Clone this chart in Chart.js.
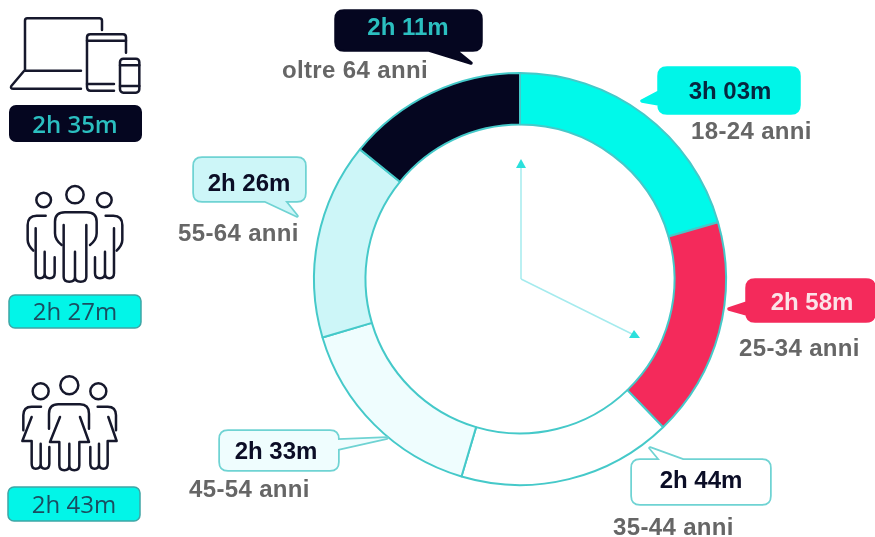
<!DOCTYPE html>
<html lang="it">
<head>
<meta charset="utf-8">
<title>Tempo per fascia di eta</title>
<script src="https://cdn.jsdelivr.net/npm/chart.js@4"></script>
<style>
  html, body { margin: 0; padding: 0; background: #fff; }
  #stage { position: relative; width: 875px; height: 537px; overflow: hidden; }
  #ring { position: absolute; left: 300px; top: 59px; }
  #overlay { position: absolute; left: 0; top: 0; }
  .big { font: bold 24px "Liberation Sans", sans-serif; text-anchor: middle; }
  .age { font: bold 24px "Liberation Sans", sans-serif; letter-spacing: 0.35px; fill: #666; }
  .pill { font: 24px "Open Sans", sans-serif; text-anchor: middle; }
  .icon { fill: none; stroke: #16182c; stroke-width: 7.5; stroke-linecap: round; stroke-linejoin: round; }
</style>
</head>
<body>
<div id="stage">
  <canvas id="ring" width="440" height="440"></canvas>
  <svg id="overlay" width="875" height="537" viewBox="0 0 875 537"></svg>
</div>
<script>
// Age groups, clockwise from 12 o'clock
const ageGroups = ["18-24 anni", "25-34 anni", "35-44 anni", "45-54 anni", "55-64 anni", "oltre 64 anni"];
const timeLabels = ["3h 03m", "2h 58m", "2h 44m", "2h 33m", "2h 26m", "2h 11m"];
// Slice sizes, in degrees of the ring
const sliceSizes = [74, 62, 60.5, 57, 55.5, 51];
const sliceColors = ["#00f9ea", "#f42a5b", "#ffffff", "#effdfe", "#cdf6f8", "#050620"];
// Totals in the left column
const deviceTotal = "2h 35m";
const menTotal = "2h 27m";
const womenTotal = "2h 43m";

new Chart(document.getElementById("ring"), {
  type: "doughnut",
  data: {
    labels: ageGroups,
    datasets: [
      {
        data: sliceSizes,
        backgroundColor: sliceColors,
        borderColor: "#45c9c9",
        borderWidth: 2,
        hoverOffset: 0,
      },
    ],
  },
  options: {
    responsive: false,
    animation: false,
    radius: 206,
    cutout: "75%",
    plugins: { legend: { display: false }, tooltip: { enabled: false } },
  },
});

// Callouts: box [x, y, w, h], tail points, text centre and baseline, age label position
const callouts = [
  { box: [659, 68, 140, 45], tail: [[659, 92], [642, 101], [659, 104]], fill: "#00f5e8", stroke: "#00f5e8", text: "#06263f", tx: 730, ty: 99, ax: 691, ay: 139 },
  { box: [747, 280, 127, 41], tail: [[747, 303], [729, 309], [747, 314]], fill: "#f42a5b", stroke: "#f42a5b", text: "#fbe3e8", tx: 812, ty: 310, ax: 739, ay: 356 },
  { box: [632, 460, 138, 44], tail: [[660, 460], [650, 448], [683, 460]], fill: "#ffffff", stroke: "#6fd3d3", text: "#0b0d26", tx: 701, ty: 488, ax: 613, ay: 535 },
  { box: [220, 431, 118, 39], tail: [[338, 440], [387, 438], [338, 449]], fill: "#effdfe", stroke: "#6fd3d3", text: "#0b0d26", tx: 276, ty: 459, ax: 189, ay: 497 },
  { box: [194, 158, 111, 43], tail: [[265, 201], [297, 216], [285, 201]], fill: "#cdf6f8", stroke: "#6fd3d3", text: "#0b0d26", tx: 249, ty: 191, ax: 178, ay: 241 },
  { box: [336, 11, 145, 39], tail: [[429, 50], [471, 63], [455, 50]], fill: "#050620", stroke: "#050620", text: "#2bbfc0", tx: 408, ty: 35, ax: 282, ay: 78 },
];

function bubblePaths(box, tail) {
  const [x, y, w, h] = box;
  const r = 8;
  const rect = `M${x + r} ${y}H${x + w - r}Q${x + w} ${y} ${x + w} ${y + r}V${y + h - r}Q${x + w} ${y + h} ${x + w - r} ${y + h}H${x + r}Q${x} ${y + h} ${x} ${y + h - r}V${y + r}Q${x} ${y} ${x + r} ${y}Z`;
  const tip = "M" + tail.map((p) => p.join(" ")).join("L") + "Z";
  return rect + tip;
}

let svg = "";

// Clock hands
svg += `<line x1="521" y1="279" x2="521" y2="166" stroke="#a5ebee" stroke-width="1.5"/>`;
svg += `<line x1="521" y1="279" x2="634" y2="335" stroke="#a5ebee" stroke-width="1.5"/>`;
svg += `<path d="M521 159L526 168H516Z" fill="#2be0dc"/>`;
svg += `<path d="M640 338L629 338L634 330Z" fill="#2be0dc"/>`;

callouts.forEach((c, i) => {
  const outline = bubblePaths(c.box, c.tail);
  // stroke first, then fill on top, so box and tail read as one shape
  svg += `<path d="${outline}" fill="none" stroke="${c.stroke}" stroke-width="3.5" stroke-linejoin="round"/>`;
  svg += `<path d="${outline}" fill="${c.fill}" fill-rule="nonzero"/>`;
  svg += `<text class="big" x="${c.tx}" y="${c.ty}" fill="${c.text}">${timeLabels[i]}</text>`;
  svg += `<text class="age" x="${c.ax}" y="${c.ay}">${ageGroups[i]}</text>`;
});

// Left column pills
svg += `<rect x="9" y="105" width="133" height="37" rx="7" fill="#050620"/>`;
svg += `<text class="pill" x="75" y="133" fill="#2bbfc0" style="font-weight:600">${deviceTotal}</text>`;
svg += `<rect x="9" y="295" width="132" height="33" rx="6" fill="#02f5e8" stroke="#3fa5a5" stroke-width="1.5"/>`;
svg += `<text class="pill" x="75" y="320" fill="#1a4d60">${menTotal}</text>`;
svg += `<rect x="8" y="487" width="132" height="34" rx="6" fill="#02f5e8" stroke="#3fa5a5" stroke-width="1.5"/>`;
svg += `<text class="pill" x="74" y="513" fill="#1a4d60">${womenTotal}</text>`;

// Devices icon
svg += `<g class="icon" transform="scale(0.3333)">
  <path d="M75 210V62Q75 55 82 55H298Q306 55 306 62V90"/>
  <path d="M75 212H243M72 213L34 258Q30 266 40 266H243"/>
  <path d="M378 158V112Q378 103 369 103H271Q261 103 261 112V260Q261 272 272 272H342"/>
  <path d="M261 122H378M261 252H342"/>
  <rect x="360" y="176" width="58" height="102" rx="10"/>
  <path d="M360 196H418M360 258H418"/>
</g>`;

// Men icon
svg += `<g class="icon" transform="translate(15 180) scale(0.3333)">
  <circle cx="86" cy="60" r="22"/><circle cx="180" cy="44" r="26"/><circle cx="268" cy="60" r="22"/>
  <path d="M140 195Q120 180 120 160V125Q120 97 150 97H215Q245 97 245 125V160Q245 180 225 195"/>
  <path d="M146 135V290Q146 305 163 305Q180 305 180 290V215M180 290Q180 305 197 305Q214 305 214 290V135"/>
  <path d="M92 107H65Q38 107 38 135V180Q38 195 55 212"/>
  <path d="M62 145V280Q62 295 75 295Q89 295 89 280V215M89 280Q89 295 104 295Q119 295 119 280V232"/>
  <path d="M272 107H295Q322 107 322 135V180Q322 195 305 212"/>
  <path d="M297 145V280Q297 295 283 295Q270 295 270 280V215M270 280Q270 295 255 295Q240 295 240 280V232"/>
</g>`;

// Women icon
svg += `<g class="icon" transform="translate(15 372) scale(0.3333)">
  <circle cx="77" cy="58" r="24"/><circle cx="163" cy="40" r="27"/><circle cx="250" cy="58" r="24"/>
  <path d="M102 170V125Q102 97 130 97H195Q222 97 222 125V170"/>
  <path d="M135 135L105 210H133V280Q133 295 148 295Q163 295 163 280V215M163 280Q163 295 178 295Q193 295 193 280V210H222L195 135"/>
  <path d="M78 104H50Q25 104 25 130V175"/>
  <path d="M50 135L22 207H50V275Q50 290 62 290Q77 290 77 275V215M77 275Q77 290 90 290Q103 290 103 275V225"/>
  <path d="M248 104H278Q303 104 303 130V175"/>
  <path d="M280 135L305 207H278V275Q278 290 265 290Q252 290 252 275V215M252 275Q252 290 239 290Q226 290 226 275V225"/>
</g>`;

document.getElementById("overlay").innerHTML = svg;
</script>
</body>
</html>
